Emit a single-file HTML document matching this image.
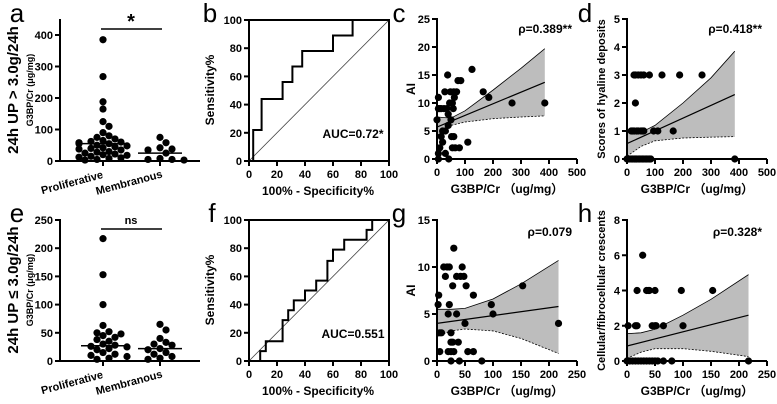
<!DOCTYPE html>
<html><head><meta charset="utf-8"><style>
html,body{margin:0;padding:0;background:#fff;}
svg{display:block;font-family:"Liberation Sans",Arial,sans-serif;font-weight:bold;}
svg text{font-weight:bold;}
</style></head><body>
<svg id="fig" width="777" height="404" viewBox="0 0 777 404" xmlns="http://www.w3.org/2000/svg"></svg>
<script>
// ---- data ----
const groupCats = ["Proliferative","Membranous"];
const aProlif = [385,268,188,165,125,110,90,80,75,70,65,62,60,58,55,55,50,48,45,42,40,38,35,30,28,25,22,20,18,15,12,10,8,5,3];
const aMemb = [75,58,42,38,35,25,8,5,5,3];
const aMedians = [55,25];
const eProlif = [217,153,100,63,52,50,48,45,42,38,35,30,28,26,25,22,20,15,12,10,8,5,3];
const eMemb = [65,55,40,33,30,28,22,20,15,12,8,5,3];
const eMedians = [27,22];
const aTicks = [0,100,200,300,400];
const eTicks = [0,50,100,150,200,250];
const rocTicks = [0,20,40,60,80,100];
const bRocX = [0,3,3,9,9,24,24,31,31,38,38,60,60,74,74,100];
const bRocY = [0,0,22,22,44,44,56,56,67,67,78,78,89,89,100,100];
const fRocX = [0,8,8,12,12,24,24,28,28,32,32,40,40,48,48,56,56,60,60,68,68,84,84,88,88,100];
const fRocY = [0,0,7,7,14,14,29,29,36,36,43,43,50,50,57,57,71,71,79,79,86,86,93,93,100,100];
const cX = [0,5,5,5,5,10,10,15,15,20,20,25,28,30,30,35,38,40,40,42,45,48,50,52,55,55,58,60,60,62,65,70,75,80,85,110,125,165,185,268,385];
const cY = [7,11,1,0,9,9,2,4,9,5,3,9,12,1,5,9,15,8,6,0,10,12,7,4,10,2,9,12,4,11,2,12,14,2,14,3,16,12,11,10,10];
const dX = [25,30,40,50,60,80,125,188,268,30,15,20,25,35,40,50,55,60,95,110,165,0,5,10,15,20,25,30,35,40,45,50,55,60,65,70,75,80,85,385];
const dY = [3,3,3,3,3,3,3,3,3,2,1,1,1,1,1,1,1,1,1,1,1,0,0,0,0,0,0,0,0,0,0,0,0,0,0,0,0,0,0,0];
const gX = [2,3,5,8,5,12,15,18,20,20,22,22,25,25,25,25,28,28,30,30,35,35,38,40,42,45,48,50,52,55,65,65,80,97,100,153,217];
const gY = [6,7,3,3,1,10,9,10,5,1,6,10,3,2,1,0,8,2,1,12,9,5,2,0,9,10,9,4,8,1,7,1,0,6,5,8,4];
const hX = [28,18,35,38,40,50,97,153,2,15,18,45,50,52,65,100,0,5,10,15,20,25,30,35,40,45,50,55,65,80,217];
const hY = [6,4,4,4,4,4,4,4,2,2,2,2,2,2,2,2,0,0,0,0,0,0,0,0,0,0,0,0,0,0,0];
const cFit=[5.7,13.7], cCiX=[0,50,100,200,300,385], cUp=[7.5,7.3,8.6,12.3,16.2,19.7], cLo=[4.2,6.0,6.6,7.2,7.5,7.7];
const dFit=[0.55,2.3], dCiX=[0,50,100,200,300,385], dUp=[1.0,0.95,1.2,2.0,2.9,3.85], dLo=[0.1,0.45,0.65,0.75,0.78,0.8];
const gFit=[4.0,5.8], gCiX=[0,25,50,100,150,217], gUp=[5.5,5.5,5.6,6.6,8.2,10.7], gLo=[2.6,3.2,3.4,3.2,2.4,0.8];
const hFit=[0.85,2.6], hCiX=[0,25,50,100,150,217], hUp=[1.55,1.6,1.8,2.6,3.5,4.9], hLo=[0.15,0.5,0.7,0.7,0.55,0.25];
const xTicks500=[0,100,200,300,400,500], xTicks250=[0,50,100,150,200,250];

const NS="http://www.w3.org/2000/svg";
const svg=document.getElementById('fig');
function mk(tag,attrs,parent){const e=document.createElementNS(NS,tag);for(const k in attrs)e.setAttribute(k,attrs[k]);(parent||svg).appendChild(e);return e;}
function txt(s,x,y,size,anchor,parent,rot){const t=mk('text',{x:x,y:y,'font-size':size,'text-anchor':anchor||'middle',fill:'#000','font-weight':'bold'},parent);if(rot)t.setAttribute('transform','rotate(-90 '+x+' '+y+')');t.textContent=s;return t;}
function lin(d0,d1,r0,r1){return v=>r0+(v-d0)*(r1-r0)/(d1-d0);}

function yAxis(g,x,y0,y1,sy,ticks){
  mk('line',{x1:x,y1:y0,x2:x,y2:y1-1,stroke:'#000','stroke-width':2},g);
  ticks.forEach(t=>{mk('line',{x1:x-5,y1:sy(t),x2:x,y2:sy(t),stroke:'#000','stroke-width':2},g);txt(String(t),x-7,sy(t)+4,11,'end',g);});
}
function xAxis(g,y,x0,x1,sx,ticks){
  mk('line',{x1:x0-1,y1:y,x2:x1,y2:y,stroke:'#000','stroke-width':2},g);
  ticks.forEach(t=>{mk('line',{x1:sx(t),y1:y,x2:sx(t),y2:y+5,stroke:'#000','stroke-width':2},g);txt(String(t),sx(t),y+17,11,'middle',g);});
}

function dotPanel(name,top,yMax,ticks,groups,medians,sig,title){
  const g=mk('g',{});  
  const y0=top+161, y1=top+20;
  const syA=lin(0,ticks[ticks.length-1],y0,yMax===450?top+35:top+20);
  yAxis(g,60,y0,y1,syA,ticks);
  const cx=[103,160];
  mk('line',{x1:59,y1:y0,x2:200,y2:y0,stroke:'#000','stroke-width':2},g);
  cx.forEach((c,i)=>{mk('line',{x1:c,y1:y0,x2:c,y2:y0+5,stroke:'#000','stroke-width':2},g);
    const lx=c-30, ly=y0+25;
    const t=txt(groupCats[i],lx,ly,11,'middle',g);t.setAttribute('transform','rotate(-15 '+lx+' '+ly+')');});
  groups.forEach((vals,gi)=>{
    const used=[];
    vals.forEach(v=>{
      const py=syA(v); let k=0,off=0;
      const cand=[0,6,-6,12,-12,18,-18,24,-24];
      for(k=0;k<cand.length;k++){off=cand[k];if(!used.some(u=>Math.hypot(u[0]-off,u[1]-py)<6.5))break;}
      used.push([off,py]);
      const d=mk('circle',{cx:cx[gi]+off,cy:py,r:3.6,fill:'#000'},g);
      
      
    });
    mk('line',{x1:cx[gi]-22,y1:syA(medians[gi]),x2:cx[gi]+22,y2:syA(medians[gi]),stroke:'#000','stroke-width':1.5},g);
  });
  mk('line',{x1:101,y1:top+29,x2:162,y2:top+29,stroke:'#000','stroke-width':1.5},g);
  txt(sig,131,top+(sig==='*'?28:24),sig==='*'?20:11,'middle',g);
  txt(title,18,top+90,15,'middle',g,true);
  txt('G3BP/Cr (μg/mg)',33,top+90,9,'middle',g,true);
}
function rocPanel(name,top,xs,ys,auc){
  const g=mk('g',{});  
  const sx=lin(0,100,249,389), sy=lin(0,100,top+161,top+20);
  mk('rect',{x:249,y:top+20,width:140,height:141,fill:'none',stroke:'#000','stroke-width':2},g);
  rocTicks.forEach(t=>{mk('line',{x1:244,y1:sy(t),x2:249,y2:sy(t),stroke:'#000','stroke-width':2},g);txt(String(t),242,sy(t)+4,11,'end',g);
    mk('line',{x1:sx(t),y1:top+161,x2:sx(t),y2:top+166,stroke:'#000','stroke-width':2},g);txt(String(t),sx(t),top+178,11,'middle',g);});
  mk('line',{x1:sx(0),y1:sy(0),x2:sx(100),y2:sy(100),stroke:'#444','stroke-width':0.8},g);
  const p=mk('polyline',{points:xs.map((x,i)=>sx(x)+','+sy(ys[i])).join(' '),fill:'none',stroke:'#000','stroke-width':2},g);
  
  
  txt(auc,353,top+138,12,'middle',g);
  txt('Sensitivity%',214,top+90,12,'middle',g,true);
  txt('100% - Specificity%',318,top+195,12,'middle',g);
}
function scatPanel(name,ax,top,xMax,yMax,xt,yt,X,Y,fit,ciX,up,lo,rho,ylab,ylabSize){
  const g=mk('g',{});  
  const y0=top+(top?161:159), y1=top+(top?20:19);
  const sx=lin(0,xMax,ax,ax+140), sy=lin(0,yMax,y0,y1);
  const pts=ciX.map((x,i)=>sx(x)+','+sy(up[i])).concat(ciX.slice().reverse().map((x,i)=>sx(x)+','+sy(lo[lo.length-1-i])));
  const band=mk('polygon',{points:pts.join(' '),fill:'#bdbdbd',stroke:'none'},g);
  
  
  mk('polyline',{points:ciX.map((x,i)=>sx(x)+','+sy(up[i])).join(' '),fill:'none',stroke:'#000','stroke-width':0.8},g);
  mk('polyline',{points:ciX.map((x,i)=>sx(x)+','+sy(lo[i])).join(' '),fill:'none',stroke:'#000','stroke-width':0.8,'stroke-dasharray':'2,1.5'},g);
  const last=ciX[ciX.length-1];
  const fl=mk('line',{x1:sx(0),y1:sy(fit[0]),x2:sx(last),y2:sy(fit[1]),stroke:'#000','stroke-width':1.2},g);
  
  
  X.forEach((x,i)=>{const d=mk('circle',{cx:sx(x),cy:sy(Y[i]),r:3.6,fill:'#000'},g);
    
    });
  yAxis(g,ax,y0,y1,sy,yt);
  xAxis(g,y0,ax,ax+140,sx,xt);
  txt(rho,ax+135,top+(top?36:33),12,'end',g);
  txt(ylab,ax-22,(y0+y1)/2,ylabSize,'middle',g,true);
  txt('G3BP/Cr （ug/mg）',ax+70,y0+34,12,'middle',g);
}
dotPanel('panel-a',0,450,aTicks,[aProlif,aMemb],aMedians,'*','24h UP > 3.0g/24h');
dotPanel('panel-e',200,250,eTicks,[eProlif,eMemb],eMedians,'ns','24h UP ≤ 3.0g/24h');
rocPanel('panel-b',0,bRocX,bRocY,'AUC=0.72*');
rocPanel('panel-f',200,fRocX,fRocY,'AUC=0.551');
scatPanel('panel-c',437,0,500,25,xTicks500,[0,5,10,15,20,25],cX,cY,cFit,cCiX,cUp,cLo,'ρ=0.389**','AI',12);
scatPanel('panel-d',627,0,500,5,xTicks500,[0,1,2,3,4,5],dX,dY,dFit,dCiX,dUp,dLo,'ρ=0.418**','Scores of hyaline deposits',11);
scatPanel('panel-g',437,200,250,15,xTicks250,[0,5,10,15],gX,gY,gFit,gCiX,gUp,gLo,'ρ=0.079','AI',12);
scatPanel('panel-h',627,200,250,8,xTicks250,[0,2,4,6,8],hX,hY,hFit,hCiX,hUp,hLo,'ρ=0.328*','Cellular/fibrocellular crescents',11);
[['a',17,22],['b',210,22],['c',399,22],['d',585,22],['e',17,222],['f',212,222],['g',399,222],['h',585,222]].forEach(l=>{
  const t=txt(l[0],l[1],l[2],26,'middle');t.setAttribute('style','font-weight:normal');
  
  
});
</script>
</body></html>
